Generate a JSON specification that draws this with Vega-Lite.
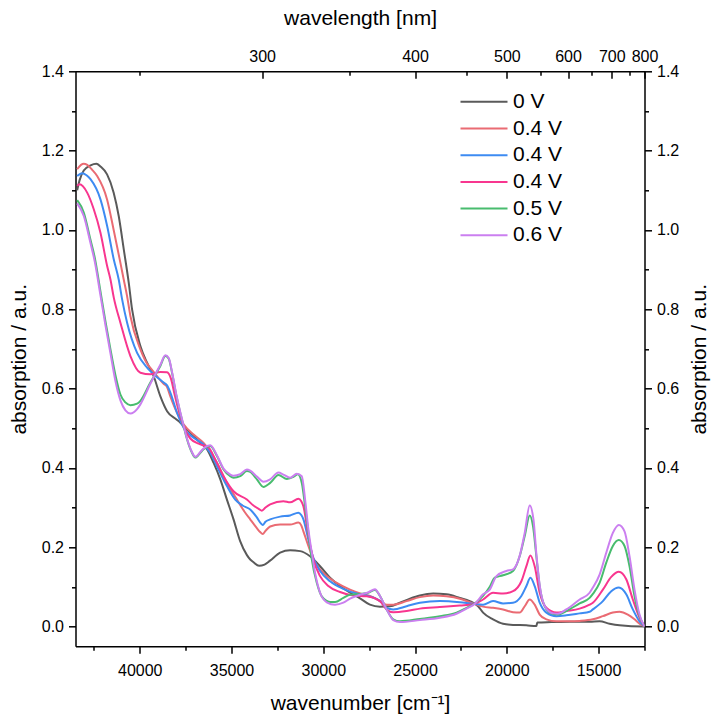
{
"$schema":"https://vega.github.io/schema/vega-lite/v6.json",
"width":569,"height":575,
"autosize":{"type":"none"},
"padding":{"left":75.5,"top":71.3,"right":68.5,"bottom":69.7},
"background":"white",
"config":{"view":{"stroke":null},
"axis":{"grid":false,"domainColor":"black","tickColor":"black","labelColor":"black","titleColor":"black","labelFont":"Liberation Sans","titleFont":"Liberation Sans","labelFontSize":16,"titleFontSize":21,"titleFontWeight":"normal","domainWidth":1.5,"tickWidth":1.5,"labelFlush":false,"labelOverlap":false},
"legend":{"labelFont":"Liberation Sans","labelFontSize":21,"labelColor":"black"}},
"datasets":{"curves":[
{"s":"A","w":43410,"a":1.100},{"s":"A","w":43280,"a":1.125},{"s":"A","w":43050,"a":1.150},{"s":"A","w":42680,"a":1.163},{"s":"A","w":42360,"a":1.167},{"s":"A","w":42140,"a":1.160},{"s":"A","w":41780,"a":1.140},{"s":"A","w":41420,"a":1.094},{"s":"A","w":41145,"a":1.035},{"s":"A","w":40870,"a":0.951},{"s":"A","w":40600,"a":0.867},{"s":"A","w":40420,"a":0.800},{"s":"A","w":39965,"a":0.707},{"s":"A","w":39600,"a":0.665},{"s":"A","w":39240,"a":0.631},{"s":"A","w":38880,"a":0.581},{"s":"A","w":38510,"a":0.543},{"s":"A","w":38000,"a":0.522},{"s":"A","w":37790,"a":0.514},{"s":"A","w":37250,"a":0.489},{"s":"A","w":36700,"a":0.463},{"s":"A","w":36340,"a":0.447},{"s":"A","w":35980,"a":0.413},{"s":"A","w":35610,"a":0.371},{"s":"A","w":35250,"a":0.320},{"s":"A","w":34890,"a":0.270},{"s":"A","w":34530,"a":0.215},{"s":"A","w":34160,"a":0.180},{"s":"A","w":33980,"a":0.169},{"s":"A","w":33800,"a":0.162},{"s":"A","w":33500,"a":0.153},{"s":"A","w":33200,"a":0.156},{"s":"A","w":32900,"a":0.166},{"s":"A","w":32350,"a":0.186},{"s":"A","w":31810,"a":0.192},{"s":"A","w":31260,"a":0.190},{"s":"A","w":30720,"a":0.177},{"s":"A","w":30175,"a":0.152},{"s":"A","w":29630,"a":0.123},{"s":"A","w":29090,"a":0.102},{"s":"A","w":28540,"a":0.085},{"s":"A","w":28000,"a":0.071},{"s":"A","w":27460,"a":0.055},{"s":"A","w":26910,"a":0.050},{"s":"A","w":26370,"a":0.051},{"s":"A","w":25825,"a":0.060},{"s":"A","w":25280,"a":0.070},{"s":"A","w":24740,"a":0.078},{"s":"A","w":24010,"a":0.083},{"s":"A","w":23285,"a":0.081},{"s":"A","w":22560,"a":0.072},{"s":"A","w":22020,"a":0.064},{"s":"A","w":21566,"a":0.051},{"s":"A","w":21294,"a":0.035},{"s":"A","w":20751,"a":0.018},{"s":"A","w":20207,"a":0.007},{"s":"A","w":19663,"a":0.004},{"s":"A","w":18934,"a":0.003},{"s":"A","w":18391,"a":0.001},{"s":"A","w":18340,"a":0.010},{"s":"A","w":17574,"a":0.011},{"s":"A","w":16579,"a":0.012},{"s":"A","w":15491,"a":0.012},{"s":"A","w":14947,"a":0.013},{"s":"A","w":14404,"a":0.007},{"s":"A","w":13860,"a":0.003},{"s":"A","w":12592,"a":0.000},{"s":"A","w":12500,"a":0.000},
{"s":"B","w":43410,"a":1.153},{"s":"B","w":43200,"a":1.164},{"s":"B","w":43050,"a":1.167},{"s":"B","w":42860,"a":1.164},{"s":"B","w":42600,"a":1.152},{"s":"B","w":42320,"a":1.136},{"s":"B","w":41780,"a":1.077},{"s":"B","w":41420,"a":1.000},{"s":"B","w":41053,"a":0.917},{"s":"B","w":40873,"a":0.875},{"s":"B","w":40690,"a":0.833},{"s":"B","w":40510,"a":0.783},{"s":"B","w":39965,"a":0.699},{"s":"B","w":39513,"a":0.657},{"s":"B","w":39421,"a":0.652},{"s":"B","w":39057,"a":0.631},{"s":"B","w":38700,"a":0.612},{"s":"B","w":38513,"a":0.604},{"s":"B","w":38333,"a":0.580},{"s":"B","w":37970,"a":0.539},{"s":"B","w":37610,"a":0.510},{"s":"B","w":37066,"a":0.484},{"s":"B","w":36523,"a":0.463},{"s":"B","w":36158,"a":0.442},{"s":"B","w":35794,"a":0.413},{"s":"B","w":35250,"a":0.362},{"s":"B","w":34706,"a":0.320},{"s":"B","w":34300,"a":0.290},{"s":"B","w":33982,"a":0.270},{"s":"B","w":33620,"a":0.248},{"s":"B","w":33440,"a":0.238},{"s":"B","w":33300,"a":0.233},{"s":"B","w":33150,"a":0.241},{"s":"B","w":32895,"a":0.252},{"s":"B","w":32351,"a":0.257},{"s":"B","w":31807,"a":0.257},{"s":"B","w":31355,"a":0.262},{"s":"B","w":31200,"a":0.255},{"s":"B","w":31084,"a":0.240},{"s":"B","w":30812,"a":0.203},{"s":"B","w":30540,"a":0.169},{"s":"B","w":29996,"a":0.135},{"s":"B","w":29268,"a":0.110},{"s":"B","w":28544,"a":0.093},{"s":"B","w":27821,"a":0.081},{"s":"B","w":27456,"a":0.077},{"s":"B","w":26912,"a":0.064},{"s":"B","w":26548,"a":0.055},{"s":"B","w":26189,"a":0.055},{"s":"B","w":25461,"a":0.064},{"s":"B","w":24737,"a":0.074},{"s":"B","w":24014,"a":0.078},{"s":"B","w":23285,"a":0.076},{"s":"B","w":22561,"a":0.070},{"s":"B","w":21838,"a":0.058},{"s":"B","w":21294,"a":0.050},{"s":"B","w":20751,"a":0.047},{"s":"B","w":20207,"a":0.043},{"s":"B","w":19663,"a":0.036},{"s":"B","w":19301,"a":0.035},{"s":"B","w":19026,"a":0.051},{"s":"B","w":18754,"a":0.068},{"s":"B","w":18483,"a":0.055},{"s":"B","w":18210,"a":0.030},{"s":"B","w":17846,"a":0.018},{"s":"B","w":17302,"a":0.013},{"s":"B","w":16579,"a":0.013},{"s":"B","w":16035,"a":0.014},{"s":"B","w":15312,"a":0.018},{"s":"B","w":14768,"a":0.026},{"s":"B","w":14224,"a":0.035},{"s":"B","w":13860,"a":0.037},{"s":"B","w":13408,"a":0.030},{"s":"B","w":13044,"a":0.018},{"s":"B","w":12770,"a":0.007},{"s":"B","w":12500,"a":0.000},
{"s":"C","w":43410,"a":1.136},{"s":"C","w":43136,"a":1.143},{"s":"C","w":42900,"a":1.138},{"s":"C","w":42684,"a":1.128},{"s":"C","w":42140,"a":1.077},{"s":"C","w":41776,"a":1.010},{"s":"C","w":41417,"a":0.926},{"s":"C","w":41145,"a":0.875},{"s":"C","w":40960,"a":0.825},{"s":"C","w":40688,"a":0.766},{"s":"C","w":40144,"a":0.690},{"s":"C","w":39601,"a":0.653},{"s":"C","w":39421,"a":0.644},{"s":"C","w":38698,"a":0.615},{"s":"C","w":38513,"a":0.608},{"s":"C","w":38333,"a":0.590},{"s":"C","w":37969,"a":0.539},{"s":"C","w":37610,"a":0.501},{"s":"C","w":37066,"a":0.476},{"s":"C","w":36523,"a":0.459},{"s":"C","w":36158,"a":0.438},{"s":"C","w":35794,"a":0.404},{"s":"C","w":35250,"a":0.354},{"s":"C","w":34798,"a":0.320},{"s":"C","w":34400,"a":0.305},{"s":"C","w":33982,"a":0.295},{"s":"C","w":33620,"a":0.275},{"s":"C","w":33400,"a":0.260},{"s":"C","w":33300,"a":0.256},{"s":"C","w":33150,"a":0.264},{"s":"C","w":32895,"a":0.270},{"s":"C","w":32351,"a":0.277},{"s":"C","w":31807,"a":0.280},{"s":"C","w":31355,"a":0.287},{"s":"C","w":31200,"a":0.281},{"s":"C","w":31084,"a":0.270},{"s":"C","w":30812,"a":0.219},{"s":"C","w":30540,"a":0.173},{"s":"C","w":30175,"a":0.140},{"s":"C","w":29632,"a":0.114},{"s":"C","w":28908,"a":0.095},{"s":"C","w":28180,"a":0.083},{"s":"C","w":27636,"a":0.078},{"s":"C","w":26912,"a":0.064},{"s":"C","w":26548,"a":0.047},{"s":"C","w":26189,"a":0.043},{"s":"C","w":25461,"a":0.051},{"s":"C","w":24737,"a":0.060},{"s":"C","w":23649,"a":0.064},{"s":"C","w":22561,"a":0.061},{"s":"C","w":21838,"a":0.057},{"s":"C","w":21294,"a":0.055},{"s":"C","w":20751,"a":0.064},{"s":"C","w":20207,"a":0.058},{"s":"C","w":19663,"a":0.060},{"s":"C","w":19209,"a":0.077},{"s":"C","w":18934,"a":0.102},{"s":"C","w":18716,"a":0.123},{"s":"C","w":18483,"a":0.102},{"s":"C","w":18210,"a":0.060},{"s":"C","w":17846,"a":0.035},{"s":"C","w":17302,"a":0.026},{"s":"C","w":16758,"a":0.028},{"s":"C","w":16035,"a":0.033},{"s":"C","w":15491,"a":0.037},{"s":"C","w":15312,"a":0.043},{"s":"C","w":14768,"a":0.064},{"s":"C","w":14311,"a":0.089},{"s":"C","w":13898,"a":0.098},{"s":"C","w":13495,"a":0.081},{"s":"C","w":13136,"a":0.043},{"s":"C","w":12772,"a":0.013},{"s":"C","w":12500,"a":0.000},
{"s":"D","w":43408,"a":1.111},{"s":"D","w":43282,"a":1.115},{"s":"D","w":42864,"a":1.094},{"s":"D","w":42505,"a":1.052},{"s":"D","w":42140,"a":0.993},{"s":"D","w":41776,"a":0.909},{"s":"D","w":41596,"a":0.875},{"s":"D","w":41417,"a":0.830},{"s":"D","w":41053,"a":0.766},{"s":"D","w":40509,"a":0.682},{"s":"D","w":39965,"a":0.640},{"s":"D","w":39421,"a":0.636},{"s":"D","w":38877,"a":0.642},{"s":"D","w":38513,"a":0.641},{"s":"D","w":38300,"a":0.625},{"s":"D","w":38100,"a":0.585},{"s":"D","w":37969,"a":0.560},{"s":"D","w":37610,"a":0.505},{"s":"D","w":37246,"a":0.474},{"s":"D","w":36702,"a":0.459},{"s":"D","w":36250,"a":0.451},{"s":"D","w":35886,"a":0.421},{"s":"D","w":35435,"a":0.379},{"s":"D","w":34891,"a":0.341},{"s":"D","w":34162,"a":0.320},{"s":"D","w":33803,"a":0.305},{"s":"D","w":33500,"a":0.296},{"s":"D","w":33346,"a":0.292},{"s":"D","w":33150,"a":0.300},{"s":"D","w":32895,"a":0.308},{"s":"D","w":32171,"a":0.316},{"s":"D","w":31807,"a":0.313},{"s":"D","w":31355,"a":0.322},{"s":"D","w":31200,"a":0.316},{"s":"D","w":31084,"a":0.303},{"s":"D","w":30812,"a":0.228},{"s":"D","w":30540,"a":0.169},{"s":"D","w":30175,"a":0.127},{"s":"D","w":29724,"a":0.102},{"s":"D","w":29088,"a":0.087},{"s":"D","w":28365,"a":0.078},{"s":"D","w":27636,"a":0.076},{"s":"D","w":26912,"a":0.064},{"s":"D","w":26548,"a":0.043},{"s":"D","w":26189,"a":0.036},{"s":"D","w":25461,"a":0.039},{"s":"D","w":24737,"a":0.045},{"s":"D","w":23649,"a":0.049},{"s":"D","w":22561,"a":0.053},{"s":"D","w":21838,"a":0.056},{"s":"D","w":21294,"a":0.068},{"s":"D","w":20751,"a":0.085},{"s":"D","w":20207,"a":0.083},{"s":"D","w":19663,"a":0.089},{"s":"D","w":19209,"a":0.114},{"s":"D","w":18934,"a":0.152},{"s":"D","w":18716,"a":0.179},{"s":"D","w":18483,"a":0.152},{"s":"D","w":18210,"a":0.085},{"s":"D","w":17846,"a":0.047},{"s":"D","w":17302,"a":0.035},{"s":"D","w":16758,"a":0.039},{"s":"D","w":16035,"a":0.045},{"s":"D","w":15491,"a":0.055},{"s":"D","w":15312,"a":0.060},{"s":"D","w":14768,"a":0.093},{"s":"D","w":14311,"a":0.125},{"s":"D","w":13898,"a":0.138},{"s":"D","w":13495,"a":0.119},{"s":"D","w":13136,"a":0.068},{"s":"D","w":12772,"a":0.022},{"s":"D","w":12500,"a":0.000},
{"s":"E","w":43408,"a":1.075},{"s":"E","w":43049,"a":1.044},{"s":"E","w":42684,"a":0.975},{"s":"E","w":42450,"a":0.930},{"s":"E","w":42140,"a":0.845},{"s":"E","w":41870,"a":0.770},{"s":"E","w":41600,"a":0.700},{"s":"E","w":41330,"a":0.635},{"s":"E","w":41053,"a":0.585},{"s":"E","w":40780,"a":0.565},{"s":"E","w":40509,"a":0.558},{"s":"E","w":40144,"a":0.562},{"s":"E","w":39965,"a":0.569},{"s":"E","w":39421,"a":0.615},{"s":"E","w":38877,"a":0.657},{"s":"E","w":38605,"a":0.682},{"s":"E","w":38420,"a":0.675},{"s":"E","w":38241,"a":0.640},{"s":"E","w":38000,"a":0.581},{"s":"E","w":37800,"a":0.540},{"s":"E","w":37610,"a":0.505},{"s":"E","w":37425,"a":0.472},{"s":"E","w":37154,"a":0.438},{"s":"E","w":36974,"a":0.426},{"s":"E","w":36700,"a":0.438},{"s":"E","w":36523,"a":0.447},{"s":"E","w":36158,"a":0.455},{"s":"E","w":35794,"a":0.430},{"s":"E","w":35435,"a":0.396},{"s":"E","w":35100,"a":0.380},{"s":"E","w":34891,"a":0.375},{"s":"E","w":34526,"a":0.379},{"s":"E","w":34162,"a":0.392},{"s":"E","w":33982,"a":0.390},{"s":"E","w":33618,"a":0.371},{"s":"E","w":33259,"a":0.352},{"s":"E","w":32895,"a":0.362},{"s":"E","w":32443,"a":0.382},{"s":"E","w":31986,"a":0.372},{"s":"E","w":31627,"a":0.377},{"s":"E","w":31388,"a":0.384},{"s":"E","w":31171,"a":0.362},{"s":"E","w":30991,"a":0.303},{"s":"E","w":30812,"a":0.236},{"s":"E","w":30627,"a":0.169},{"s":"E","w":30355,"a":0.110},{"s":"E","w":30083,"a":0.076},{"s":"E","w":29632,"a":0.062},{"s":"E","w":29360,"a":0.062},{"s":"E","w":28908,"a":0.072},{"s":"E","w":28544,"a":0.080},{"s":"E","w":28000,"a":0.082},{"s":"E","w":27549,"a":0.085},{"s":"E","w":27184,"a":0.092},{"s":"E","w":26912,"a":0.077},{"s":"E","w":26548,"a":0.043},{"s":"E","w":26189,"a":0.018},{"s":"E","w":25825,"a":0.013},{"s":"E","w":24737,"a":0.019},{"s":"E","w":23649,"a":0.026},{"s":"E","w":22741,"a":0.035},{"s":"E","w":22197,"a":0.047},{"s":"E","w":21746,"a":0.058},{"s":"E","w":21294,"a":0.077},{"s":"E","w":20930,"a":0.100},{"s":"E","w":20658,"a":0.123},{"s":"E","w":20207,"a":0.129},{"s":"E","w":19663,"a":0.140},{"s":"E","w":19301,"a":0.177},{"s":"E","w":19026,"a":0.228},{"s":"E","w":18754,"a":0.280},{"s":"E","w":18575,"a":0.253},{"s":"E","w":18391,"a":0.177},{"s":"E","w":18210,"a":0.102},{"s":"E","w":17938,"a":0.051},{"s":"E","w":17574,"a":0.033},{"s":"E","w":17215,"a":0.030},{"s":"E","w":16758,"a":0.039},{"s":"E","w":16035,"a":0.058},{"s":"E","w":15491,"a":0.072},{"s":"E","w":15312,"a":0.082},{"s":"E","w":14947,"a":0.110},{"s":"E","w":14583,"a":0.161},{"s":"E","w":14224,"a":0.203},{"s":"E","w":13898,"a":0.218},{"s":"E","w":13588,"a":0.203},{"s":"E","w":13316,"a":0.152},{"s":"E","w":13044,"a":0.076},{"s":"E","w":12772,"a":0.026},{"s":"E","w":12500,"a":0.000},
{"s":"F","w":43408,"a":1.067},{"s":"F","w":43049,"a":1.035},{"s":"F","w":42684,"a":0.967},{"s":"F","w":42450,"a":0.920},{"s":"F","w":42140,"a":0.835},{"s":"F","w":41870,"a":0.760},{"s":"F","w":41600,"a":0.690},{"s":"F","w":41330,"a":0.620},{"s":"F","w":41053,"a":0.570},{"s":"F","w":40780,"a":0.545},{"s":"F","w":40509,"a":0.537},{"s":"F","w":40144,"a":0.548},{"s":"F","w":39965,"a":0.560},{"s":"F","w":39421,"a":0.612},{"s":"F","w":38877,"a":0.660},{"s":"F","w":38605,"a":0.684},{"s":"F","w":38420,"a":0.677},{"s":"F","w":38241,"a":0.642},{"s":"F","w":38000,"a":0.583},{"s":"F","w":37800,"a":0.542},{"s":"F","w":37610,"a":0.507},{"s":"F","w":37425,"a":0.474},{"s":"F","w":37154,"a":0.440},{"s":"F","w":36974,"a":0.428},{"s":"F","w":36700,"a":0.440},{"s":"F","w":36523,"a":0.449},{"s":"F","w":36158,"a":0.457},{"s":"F","w":35794,"a":0.432},{"s":"F","w":35435,"a":0.398},{"s":"F","w":35100,"a":0.384},{"s":"F","w":34891,"a":0.380},{"s":"F","w":34526,"a":0.384},{"s":"F","w":34162,"a":0.396},{"s":"F","w":33982,"a":0.393},{"s":"F","w":33618,"a":0.378},{"s":"F","w":33259,"a":0.365},{"s":"F","w":32895,"a":0.371},{"s":"F","w":32443,"a":0.388},{"s":"F","w":32171,"a":0.383},{"s":"F","w":31807,"a":0.375},{"s":"F","w":31442,"a":0.385},{"s":"F","w":31171,"a":0.379},{"s":"F","w":30991,"a":0.320},{"s":"F","w":30812,"a":0.245},{"s":"F","w":30627,"a":0.186},{"s":"F","w":30447,"a":0.135},{"s":"F","w":30175,"a":0.085},{"s":"F","w":29811,"a":0.061},{"s":"F","w":29360,"a":0.055},{"s":"F","w":28908,"a":0.060},{"s":"F","w":28544,"a":0.070},{"s":"F","w":28000,"a":0.080},{"s":"F","w":27549,"a":0.086},{"s":"F","w":27184,"a":0.094},{"s":"F","w":26912,"a":0.077},{"s":"F","w":26548,"a":0.043},{"s":"F","w":26189,"a":0.016},{"s":"F","w":25825,"a":0.011},{"s":"F","w":24737,"a":0.016},{"s":"F","w":23649,"a":0.022},{"s":"F","w":22741,"a":0.032},{"s":"F","w":22197,"a":0.045},{"s":"F","w":21746,"a":0.057},{"s":"F","w":21294,"a":0.081},{"s":"F","w":20930,"a":0.093},{"s":"F","w":20566,"a":0.127},{"s":"F","w":20022,"a":0.140},{"s":"F","w":19663,"a":0.144},{"s":"F","w":19301,"a":0.178},{"s":"F","w":19026,"a":0.236},{"s":"F","w":18754,"a":0.305},{"s":"F","w":18550,"a":0.270},{"s":"F","w":18380,"a":0.177},{"s":"F","w":18190,"a":0.098},{"s":"F","w":17880,"a":0.047},{"s":"F","w":17480,"a":0.033},{"s":"F","w":17215,"a":0.032},{"s":"F","w":16758,"a":0.043},{"s":"F","w":16035,"a":0.068},{"s":"F","w":15491,"a":0.085},{"s":"F","w":15312,"a":0.098},{"s":"F","w":14947,"a":0.131},{"s":"F","w":14583,"a":0.186},{"s":"F","w":14224,"a":0.236},{"s":"F","w":13898,"a":0.256},{"s":"F","w":13588,"a":0.240},{"s":"F","w":13316,"a":0.177},{"s":"F","w":13044,"a":0.093},{"s":"F","w":12772,"a":0.030},{"s":"F","w":12500,"a":0.000}
],"frame":[{"w":43500,"a":0}]},
"layer":[
{"data":{"name":"curves"},
"mark":{"type":"line","interpolate":"monotone","strokeWidth":2,"clip":true},
"encoding":{
"x":{"field":"w","type":"quantitative","scale":{"domain":[12500,43500],"reverse":true,"nice":false,"zero":false},
"axis":{"orient":"bottom","values":[40000,35000,30000,25000,20000,15000],"format":"d","tickSize":7,"labelPadding":9,"title":"wavenumber [cm⁻¹]","titlePadding":14}},
"y":{"field":"a","type":"quantitative","scale":{"domain":[-0.05,1.4],"nice":false,"zero":false},
"axis":{"orient":"left","values":[0,0.2,0.4,0.6,0.8,1.0,1.2,1.4],"format":".1f","tickSize":7,"labelPadding":5,"title":"absorption / a.u.","titlePadding":12}},
"color":{"field":"s","type":"nominal","scale":{"domain":["A","B","C","D","E","F"],"range":["#5a5a5a","#ea6b73","#3d8bf2","#f8368f","#48bc6e","#cb7ff0"]},
"legend":{"orient":"none","legendX":398,"legendY":20,"title":null,"symbolType":"M-4.7,0H4.7","symbolSize":100,"symbolStrokeWidth":2,"symbolFillColor":"transparent","labelOffset":18.5,"rowPadding":4.7,
"labelExpr":"{'A':'0 V','B':'0.4 V','C':'0.4 V','D':'0.4 V','E':'0.5 V','F':'0.6 V'}[datum.label]"}}}},
{"data":{"name":"frame"},"mark":{"type":"point","opacity":0},
"encoding":{
"x":{"field":"w","type":"quantitative","axis":{"orient":"top","values":[33333.333,25000,20000,16666.667,14285.714,12500],"labelExpr":"format(10000000/datum.value,'d')","tickSize":-7,"labelPadding":14,"title":"wavelength [nm]","titlePadding":20}},
"y":{"field":"a","type":"quantitative","axis":{"orient":"right","values":[0,0.2,0.4,0.6,0.8,1.0,1.2,1.4],"format":".1f","tickSize":7,"labelPadding":5,"title":"absorption / a.u.","titleAngle":-90,"titleBaseline":"top","titlePadding":10}}}},
{"data":{"name":"frame"},"mark":{"type":"point","opacity":0},
"encoding":{
"x":{"field":"w","type":"quantitative","axis":{"orient":"bottom","values":[42500,37500,32500,27500,22500,17500,12500],"labels":false,"domain":false,"tickSize":4,"title":null}},
"y":{"field":"a","type":"quantitative","axis":{"orient":"left","values":[0.1,0.3,0.5,0.7,0.9,1.1,1.3],"labels":false,"domain":false,"tickSize":4,"title":null}}}},
{"data":{"name":"frame"},"mark":{"type":"point","opacity":0},
"encoding":{
"x":{"field":"w","type":"quantitative","axis":{"orient":"top","values":[40000,28571.43,22222.22,18181.82,15384.62,13333.33],"labels":false,"domain":false,"tickSize":-4,"title":null}},
"y":{"field":"a","type":"quantitative","axis":{"orient":"right","values":[0.1,0.3,0.5,0.7,0.9,1.1,1.3],"labels":false,"domain":false,"tickSize":4,"title":null}}}}
],
"resolve":{"scale":{"x":"shared","y":"shared"},"axis":{"x":"independent","y":"independent"}}
}
